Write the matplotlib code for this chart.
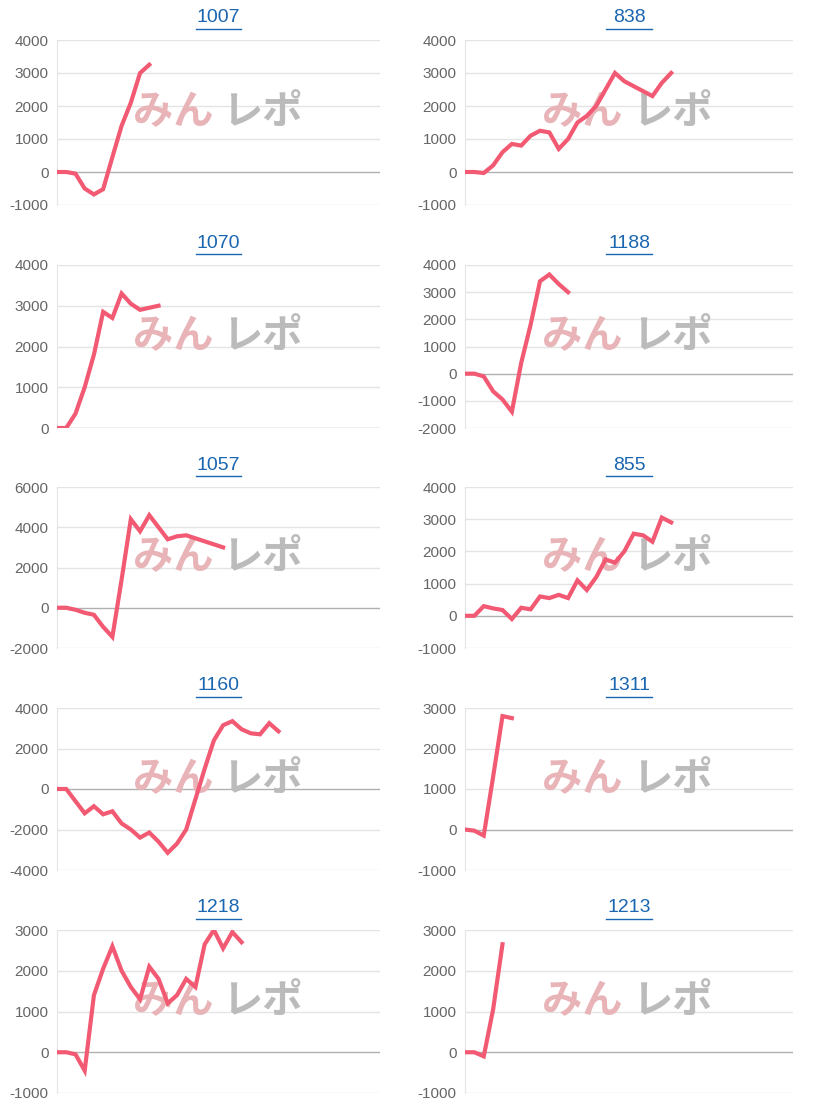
import matplotlib.pyplot as plt

titles = ["1007", "838", "1070", "1188", "1057", "855", "1160", "1311", "1218", "1213"]
series = [
    [0, 0, -50, -500, -680, -520, 450, 1400, 2100, 3000, 3250],
    [0, 0, -30, 200, 600, 850, 800, 1100, 1250, 1200, 700, 1000, 1500, 1700, 2000, 2500, 3000,
     2750, 2600, 2450, 2300, 2700, 3000],
    [0, 0, 350, 1000, 1800, 2850, 2700, 3300, 3050, 2900, 2950, 3000],
    [0, 0, -100, -650, -950, -1400, 400, 1800, 3400, 3650, 3300, 3000],
    [0, 0, -100, -250, -350, -950, -1450, 1400, 4400, 3800, 4600, 4000, 3400, 3550, 3600, 3450,
     3300, 3150, 3000],
    [0, 0, 300, 230, 180, -100, 250, 200, 600, 550, 650, 550, 1100, 800, 1200, 1750, 1650, 2000,
     2550, 2500, 2300, 3050, 2900],
    [0, 0, -600, -1200, -850, -1250, -1100, -1700, -2000, -2400, -2150, -2600, -3150, -2700, -2000,
     -500, 1000, 2400, 3150, 3350, 2950, 2750, 2700, 3250, 2850],
    [0, -30, -150, 1300, 2800, 2750],
    [0, 0, -50, -450, 1400, 2050, 2600, 2000, 1600, 1300, 2100, 1800, 1200, 1400, 1800, 1600, 2650,
     3000, 2550, 2950, 2700],
    [0, 0, -100, 1050, 2650],
]
yticks = [
    [-1000, 0, 1000, 2000, 3000, 4000],
    [-1000, 0, 1000, 2000, 3000, 4000],
    [0, 1000, 2000, 3000, 4000],
    [-2000, -1000, 0, 1000, 2000, 3000, 4000],
    [-2000, 0, 2000, 4000, 6000],
    [-1000, 0, 1000, 2000, 3000, 4000],
    [-4000, -2000, 0, 2000, 4000],
    [-1000, 0, 1000, 2000, 3000],
    [-1000, 0, 1000, 2000, 3000],
    [-1000, 0, 1000, 2000, 3000],
]

plt.rcParams['font.family'] = ['Liberation Sans', 'DejaVu Sans']
W, H = 816, 1110
fig = plt.figure(figsize=(W / 100, H / 100), dpi=100)
col_x = [(57, 380), (465, 793)]
row_y = [(40, 205), (265, 428), (487, 648), (708, 870), (930, 1093)]

for i, (t, vals, yt) in enumerate(zip(titles, series, yticks)):
    r, c = divmod(i, 2)
    x0, x1 = col_x[c]
    y0, y1 = row_y[r]
    ax = fig.add_axes([x0 / W, 1 - y1 / H, (x1 - x0) / W, (y1 - y0) / H])
    ax.plot(range(len(vals)), vals, color="#f25a73", lw=3, solid_joinstyle="miter", zorder=3)
    ax.set_xlim(0, 35)
    ax.set_ylim(yt[0], yt[-1])
    ax.set_yticks(yt, [str(v) for v in yt])
    ax.set_xticks([])
    for v in yt:
        ax.axhline(v, color="#b0b0b0" if v == 0 else "#e4e4e4", lw=1, zorder=1)
    for s in ["top", "right", "bottom"]:
        ax.spines[s].set_visible(False)
    ax.spines["left"].set_color("#e4e4e4")
    ax.tick_params(axis="y", length=0, labelsize=11, labelcolor="#666666", pad=6)
    ax.text(0.5, 1.0 + 22 / (y1 - y0), t, transform=ax.transAxes, ha="center", va="center",
            fontsize=14, color="#1a66b0")
    ax.plot([0.5 - 0.07, 0.5 + 0.07], [1.0 + 11 / (y1 - y0)] * 2, transform=ax.transAxes,
            color="#1a66b0", lw=1, clip_on=False)
    # watermark
    ax.text(0.235, 0.56, "みん", transform=ax.transAxes, fontsize=29, fontweight="bold",
            color="#e8b4b8", family=["Noto Sans CJK JP"], va="center", zorder=2)
    ax.text(0.51, 0.56, "レポ", transform=ax.transAxes, fontsize=29, fontweight="bold",
            color="#bbbbbb", family=["Noto Sans CJK JP"], va="center", zorder=2)

fig.savefig("out.png", dpi=100)
